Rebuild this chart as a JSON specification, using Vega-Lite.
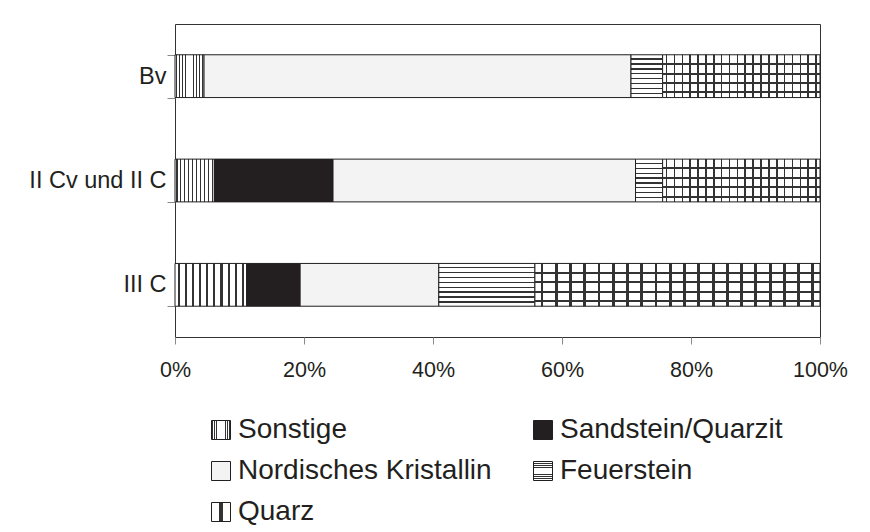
{
  "$schema": "https://vega.github.io/schema/vega-lite/v6.json",
  "autosize": {"type": "none"},
  "padding": {"left": 175, "top": 24, "right": 50, "bottom": 195},
  "width": 645,
  "height": 313,
  "background": "white",
  "config": {
    "view": {"stroke": "#333333", "strokeWidth": 1},
    "font": "Liberation Sans",
    "axis": {"labelFont": "Liberation Sans", "labelColor": "#231f20", "tickColor": "#8a8a8a", "tickWidth": 1, "domain": false, "grid": false},
    "legend": {"labelFont": "Liberation Sans", "labelColor": "#231f20"}
  },
  "data": {
    "values": [
      {"row": "Bv", "cat": "Sonstige", "k": 1, "v": 4.5},
      {"row": "Bv", "cat": "Nordisches Kristallin", "k": 3, "v": 66.2},
      {"row": "Bv", "cat": "Feuerstein", "k": 4, "v": 4.9},
      {"row": "Bv", "cat": "Quarz", "k": 5, "v": 24.4},
      {"row": "II Cv und II C", "cat": "Sonstige", "k": 1, "v": 6.1},
      {"row": "II Cv und II C", "cat": "Sandstein/Quarzit", "k": 2, "v": 18.4},
      {"row": "II Cv und II C", "cat": "Nordisches Kristallin", "k": 3, "v": 46.9},
      {"row": "II Cv und II C", "cat": "Feuerstein", "k": 4, "v": 4.2},
      {"row": "II Cv und II C", "cat": "Quarz", "k": 5, "v": 24.4},
      {"row": "III C", "cat": "Sonstige", "k": 1, "v": 11.1},
      {"row": "III C", "cat": "Sandstein/Quarzit", "k": 2, "v": 8.3},
      {"row": "III C", "cat": "Nordisches Kristallin", "k": 3, "v": 21.5},
      {"row": "III C", "cat": "Feuerstein", "k": 4, "v": 14.9},
      {"row": "III C", "cat": "Quarz", "k": 5, "v": 44.2}
    ]
  },
  "transform": [
    {"stack": "v", "groupby": ["row"], "sort": [{"field": "k", "order": "ascending"}], "offset": "normalize", "as": ["x0", "x1"]}
  ],
  "encoding": {
    "y": {
      "field": "row", "type": "nominal",
      "sort": ["Bv", "II Cv und II C", "III C"],
      "scale": {"paddingInner": 0.59, "paddingOuter": 0.295},
      "axis": {"title": null, "tickSize": 8, "labelPadding": 1, "labelFontSize": 23.5, "tickBand": "extent"}
    },
    "x": {
      "field": "x0", "type": "quantitative",
      "scale": {"domain": [0, 1], "nice": false},
      "axis": {"title": null, "values": [0, 0.2, 0.4, 0.6, 0.8, 1], "format": "%", "tickSize": 7, "labelPadding": 15, "labelFontSize": 21.5, "labelFlush": false}
    },
    "x2": {"field": "x1"}
  },
  "layer": [
    {
      "mark": {"type": "bar", "stroke": "#231f20", "strokeWidth": 1},
      "encoding": {
        "color": {
          "field": "cat", "type": "nominal",
          "scale": {
            "domain": ["Sonstige", "Sandstein/Quarzit", "Nordisches Kristallin", "Feuerstein", "Quarz"],
            "range": [
              {"expr": "{gradient:'linear',x1:0,y1:0,x2:1,y2:0,stops:[{offset:0.035,color:'#fff'},{offset:0.035,color:'#333'},{offset:0.065,color:'#333'},{offset:0.065,color:'#fff'},{offset:0.135,color:'#fff'},{offset:0.135,color:'#333'},{offset:0.165,color:'#333'},{offset:0.165,color:'#fff'},{offset:0.235,color:'#fff'},{offset:0.235,color:'#333'},{offset:0.265,color:'#333'},{offset:0.265,color:'#fff'},{offset:0.335,color:'#fff'},{offset:0.335,color:'#333'},{offset:0.365,color:'#333'},{offset:0.365,color:'#fff'},{offset:0.435,color:'#fff'},{offset:0.435,color:'#333'},{offset:0.465,color:'#333'},{offset:0.465,color:'#fff'},{offset:0.535,color:'#fff'},{offset:0.535,color:'#333'},{offset:0.565,color:'#333'},{offset:0.565,color:'#fff'},{offset:0.635,color:'#fff'},{offset:0.635,color:'#333'},{offset:0.665,color:'#333'},{offset:0.665,color:'#fff'},{offset:0.735,color:'#fff'},{offset:0.735,color:'#333'},{offset:0.765,color:'#333'},{offset:0.765,color:'#fff'},{offset:0.835,color:'#fff'},{offset:0.835,color:'#333'},{offset:0.865,color:'#333'},{offset:0.865,color:'#fff'},{offset:0.935,color:'#fff'},{offset:0.935,color:'#333'},{offset:0.965,color:'#333'},{offset:0.965,color:'#fff'}]}"},
              "#231f20",
              "#f3f3f3",
              {"expr": "{gradient:'linear',x1:0,y1:0,x2:0,y2:1,stops:[{offset:0.084,color:'#fff'},{offset:0.084,color:'#333'},{offset:0.116,color:'#333'},{offset:0.116,color:'#fff'},{offset:0.198,color:'#fff'},{offset:0.198,color:'#333'},{offset:0.23,color:'#333'},{offset:0.23,color:'#fff'},{offset:0.313,color:'#fff'},{offset:0.313,color:'#333'},{offset:0.345,color:'#333'},{offset:0.345,color:'#fff'},{offset:0.427,color:'#fff'},{offset:0.427,color:'#333'},{offset:0.459,color:'#333'},{offset:0.459,color:'#fff'},{offset:0.541,color:'#fff'},{offset:0.541,color:'#333'},{offset:0.573,color:'#333'},{offset:0.573,color:'#fff'},{offset:0.655,color:'#fff'},{offset:0.655,color:'#333'},{offset:0.687,color:'#333'},{offset:0.687,color:'#fff'},{offset:0.77,color:'#fff'},{offset:0.77,color:'#333'},{offset:0.802,color:'#333'},{offset:0.802,color:'#fff'},{offset:0.884,color:'#fff'},{offset:0.884,color:'#333'},{offset:0.916,color:'#333'},{offset:0.916,color:'#fff'}]}"},
              {"expr": "{gradient:'linear',x1:0,y1:0,x2:1,y2:0,stops:[{offset:0.02,color:'#fff'},{offset:0.02,color:'#333'},{offset:0.03,color:'#333'},{offset:0.03,color:'#fff'},{offset:0.07,color:'#fff'},{offset:0.07,color:'#333'},{offset:0.08,color:'#333'},{offset:0.08,color:'#fff'},{offset:0.12,color:'#fff'},{offset:0.12,color:'#333'},{offset:0.13,color:'#333'},{offset:0.13,color:'#fff'},{offset:0.17,color:'#fff'},{offset:0.17,color:'#333'},{offset:0.18,color:'#333'},{offset:0.18,color:'#fff'},{offset:0.22,color:'#fff'},{offset:0.22,color:'#333'},{offset:0.23,color:'#333'},{offset:0.23,color:'#fff'},{offset:0.27,color:'#fff'},{offset:0.27,color:'#333'},{offset:0.28,color:'#333'},{offset:0.28,color:'#fff'},{offset:0.32,color:'#fff'},{offset:0.32,color:'#333'},{offset:0.33,color:'#333'},{offset:0.33,color:'#fff'},{offset:0.37,color:'#fff'},{offset:0.37,color:'#333'},{offset:0.38,color:'#333'},{offset:0.38,color:'#fff'},{offset:0.42,color:'#fff'},{offset:0.42,color:'#333'},{offset:0.43,color:'#333'},{offset:0.43,color:'#fff'},{offset:0.47,color:'#fff'},{offset:0.47,color:'#333'},{offset:0.48,color:'#333'},{offset:0.48,color:'#fff'},{offset:0.52,color:'#fff'},{offset:0.52,color:'#333'},{offset:0.53,color:'#333'},{offset:0.53,color:'#fff'},{offset:0.57,color:'#fff'},{offset:0.57,color:'#333'},{offset:0.58,color:'#333'},{offset:0.58,color:'#fff'},{offset:0.62,color:'#fff'},{offset:0.62,color:'#333'},{offset:0.63,color:'#333'},{offset:0.63,color:'#fff'},{offset:0.67,color:'#fff'},{offset:0.67,color:'#333'},{offset:0.68,color:'#333'},{offset:0.68,color:'#fff'},{offset:0.72,color:'#fff'},{offset:0.72,color:'#333'},{offset:0.73,color:'#333'},{offset:0.73,color:'#fff'},{offset:0.77,color:'#fff'},{offset:0.77,color:'#333'},{offset:0.78,color:'#333'},{offset:0.78,color:'#fff'},{offset:0.82,color:'#fff'},{offset:0.82,color:'#333'},{offset:0.83,color:'#333'},{offset:0.83,color:'#fff'},{offset:0.87,color:'#fff'},{offset:0.87,color:'#333'},{offset:0.88,color:'#333'},{offset:0.88,color:'#fff'},{offset:0.92,color:'#fff'},{offset:0.92,color:'#333'},{offset:0.93,color:'#333'},{offset:0.93,color:'#fff'},{offset:0.97,color:'#fff'},{offset:0.97,color:'#333'},{offset:0.98,color:'#333'},{offset:0.98,color:'#fff'}]}"}
            ]
          },
          "legend": {
            "title": null, "orient": "bottom", "direction": "horizontal", "columns": 2,
            "padding": 32, "offset": 3, "columnPadding": 37, "rowPadding": 13,
            "labelFontSize": 28, "labelLimit": 400, "labelOffset": 3,
            "symbolType": "square", "symbolSize": 361, "symbolStrokeColor": "#231f20", "symbolStrokeWidth": 1
          }
        }
      }
    },
    {
      "transform": [{"filter": "datum.cat === 'Quarz'"}],
      "mark": {
        "type": "bar", "strokeWidth": 0,
        "fill": {"gradient": "linear", "x1": 0, "y1": 0, "x2": 0, "y2": 1, "stops": [
          {"offset": 0.194, "color": "rgba(51,51,51,0)"}, {"offset": 0.194, "color": "#333"}, {"offset": 0.238, "color": "#333"}, {"offset": 0.238, "color": "rgba(51,51,51,0)"},
          {"offset": 0.42, "color": "rgba(51,51,51,0)"}, {"offset": 0.42, "color": "#333"}, {"offset": 0.464, "color": "#333"}, {"offset": 0.464, "color": "rgba(51,51,51,0)"},
          {"offset": 0.637, "color": "rgba(51,51,51,0)"}, {"offset": 0.637, "color": "#333"}, {"offset": 0.681, "color": "#333"}, {"offset": 0.681, "color": "rgba(51,51,51,0)"},
          {"offset": 0.855, "color": "rgba(51,51,51,0)"}, {"offset": 0.855, "color": "#333"}, {"offset": 0.899, "color": "#333"}, {"offset": 0.899, "color": "rgba(51,51,51,0)"}
        ]}
      },
      "encoding": {}
    }
  ]
}
